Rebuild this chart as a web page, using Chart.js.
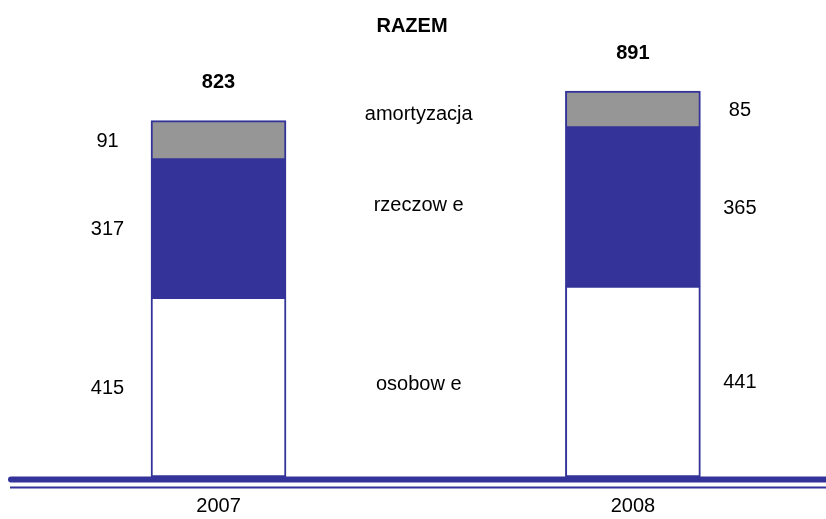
<!DOCTYPE html>
<html>
<head>
<meta charset="utf-8">
<script src="https://cdn.jsdelivr.net/npm/chart.js@4/dist/chart.umd.min.js"></script>
<style>
  body { margin: 0; background: #fff; }
  #wrap { width: 826px; height: 519px; }
</style>
</head>
<body>
<div id="wrap"><canvas id="costChart" width="826" height="519"></canvas></div>
<script>
const years = [2007, 2008];
const seriesNames = ["osobow e", "rzeczow e", "amortyzacja"];
const osobowe = [415, 441];
const rzeczowe = [317, 365];
const amortyzacja = [91, 85];
const totals = [823, 891];
const title = "RAZEM";

const font = "'Liberation Sans', Arial, sans-serif";
const navy = "#333399";

function points(values) {
  return values.map((v, i) => ({ x: years[i], y: v }));
}

// napisy: tytul, sumy, wartosci, nazwy serii, lata, podwojna linia
const labelsPlugin = {
  id: "labels",
  afterDatasetsDraw(chart) {
    const ctx = chart.ctx;
    const area = chart.chartArea;
    const x = chart.scales.x;
    ctx.save();
    ctx.textAlign = "center";
    ctx.textBaseline = "middle";
    ctx.fillStyle = "#000";

    // podwojna linia bazowa
    ctx.strokeStyle = navy;
    ctx.lineCap = "round";
    ctx.lineWidth = 6;
    ctx.beginPath();
    ctx.moveTo(11, area.bottom + 2.5);
    ctx.lineTo(chart.width + 5, area.bottom + 2.5);
    ctx.stroke();
    ctx.lineCap = "butt";
    ctx.lineWidth = 2;
    ctx.beginPath();
    ctx.moveTo(10, area.bottom + 10.5);
    ctx.lineTo(chart.width, area.bottom + 10.5);
    ctx.stroke();

    ctx.font = "bold 20px " + font;
    ctx.fillText(title, 412, 26);

    const centers = seriesNames.map(() => []);
    years.forEach((yr, j) => {
      const cx = x.getPixelForValue(yr);
      const side = j === 0 ? -111 : 107;
      chart.data.datasets.forEach((ds, i) => {
        const bar = chart.getDatasetMeta(i).data[j];
        const cy = (bar.y + bar.base) / 2;
        centers[i].push(cy);
        ctx.font = "20px " + font;
        ctx.fillText(String(ds.data[j].y), cx + side, cy + 1);
      });
      const top = chart.getDatasetMeta(2).data[j].y;
      ctx.font = "bold 20px " + font;
      ctx.fillText(String(totals[j]), cx, top - 38);
    });

    // nazwy serii pomiedzy slupkami
    const midX = (x.getPixelForValue(years[0]) + x.getPixelForValue(years[1])) / 2 - 7;
    const nudge = [0, -12, -10];
    ctx.font = "20px " + font;
    seriesNames.forEach((name, i) => {
      const cy = (centers[i][0] + centers[i][1]) / 2 + nudge[i];
      ctx.fillText(name, midX, cy);
    });

    ctx.font = "20px " + font;
    years.forEach(yr => {
      ctx.fillText(String(yr), x.getPixelForValue(yr), area.bottom + 29);
    });
    ctx.restore();
  }
};

new Chart("costChart", {
  type: "bar",
  data: {
    datasets: [
      { label: seriesNames[0], data: points(osobowe), backgroundColor: "#ffffff" },
      { label: seriesNames[1], data: points(rzeczowe), backgroundColor: navy },
      { label: seriesNames[2], data: points(amortyzacja), backgroundColor: "#969696" }
    ]
  },
  options: {
    responsive: false,
    animation: false,
    layout: { padding: { left: 8, right: 0, top: 44, bottom: 42 } },
    datasets: {
      bar: {
        barThickness: 135,
        borderColor: navy,
        borderWidth: 2,
        borderSkipped: false
      }
    },
    scales: {
      x: { type: "linear", offset: false, stacked: true, display: false, min: 2006.492, max: 2008.466 },
      y: { stacked: true, display: false, min: 0, max: 1000 }
    },
    plugins: {
      legend: { display: false },
      tooltip: { enabled: false }
    }
  },
  plugins: [labelsPlugin]
});
</script>
</body>
</html>
